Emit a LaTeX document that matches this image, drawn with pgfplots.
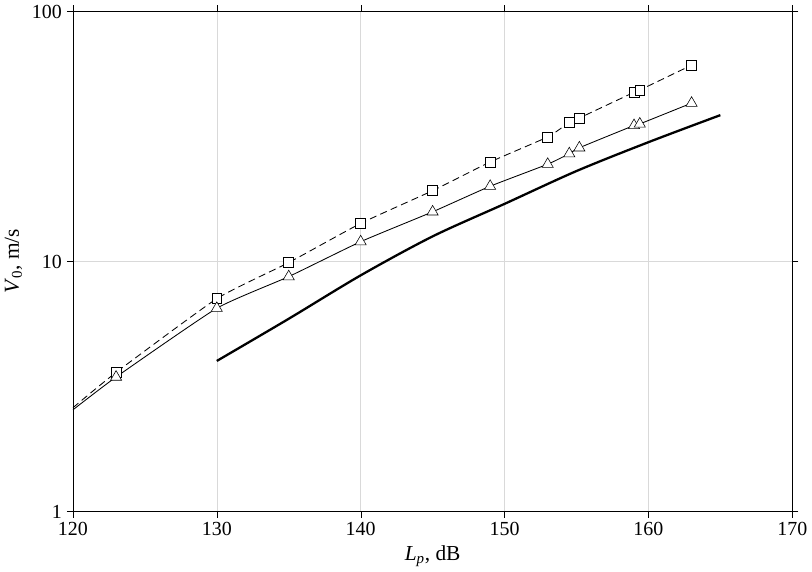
\documentclass[border=0pt]{standalone}
\usepackage{pgfplots}
\pgfplotsset{compat=1.18}
\usepackage{fontspec}
\setmainfont{Liberation Serif}
\begin{document}
\begin{tikzpicture}
\begin{axis}[
 scale only axis, width=505pt, height=351pt,
 xmin=120, xmax=170, ymin=1, ymax=100, ymode=log,
 xtick={120,130,...,170},
 ytick={1,10,100}, yticklabels={1,10,100},
 log ticks with fixed point,
 /pgf/number format/assume math mode=true,
 grid=major, major grid style={gray!30},
 tick style={black}, tick align=outside,
 minor tick num=0, yminorticks=false,
 ticklabel style={font=\fontsize{14}{16}\selectfont},
 label style={font=\fontsize{15}{18}\selectfont},
 xlabel={\textit{L\textsubscript{p}}, dB}, ylabel={\textit{V}\textsubscript{0}, m/s},
 axis line style={black, thin},
]
\addplot[black, dash pattern=on 5pt off 3pt, semithick, smooth, tension=0.3] coordinates {(120,2.6)(123,3.6)(130,7.1)(135,9.9)(140,14.2)(145,19.2)(149,25)(153,31.5)(154.5,36)(155.2,37.5)(159,47.5)(159.4,48.5)(163,61)};
\addplot[black, only marks, mark=square*, mark size=3.5pt, mark options={fill=white, solid}] coordinates {(123,3.6)(130,7.1)(135,9.9)(140,14.2)(145,19.2)(149,25)(153,31.5)(154.5,36)(155.2,37.5)(159,47.5)(159.4,48.5)(163,61)};
\addplot[black, semithick, smooth, tension=0.3] coordinates {(120,2.55)(123,3.45)(130,6.5)(135,8.7)(140,12)(145,15.8)(149,20)(153,24.5)(154.5,27)(155.2,28.5)(159,35)(159.4,35.5)(163,43)};
\addplot[black, only marks, mark=triangle*, mark size=4.5pt, mark options={fill=white}] coordinates {(123,3.45)(130,6.5)(135,8.7)(140,12)(145,15.8)(149,20)(153,24.5)(154.5,27)(155.2,28.5)(159,35)(159.4,35.5)(163,43)};
\addplot[black, line width=1.6pt, smooth] coordinates {(130,4)(135,5.9)(140,8.8)(145,12.6)(150,17)(155,23)(160,30)(165,38.5)};
\end{axis}
\end{tikzpicture}
\end{document}
